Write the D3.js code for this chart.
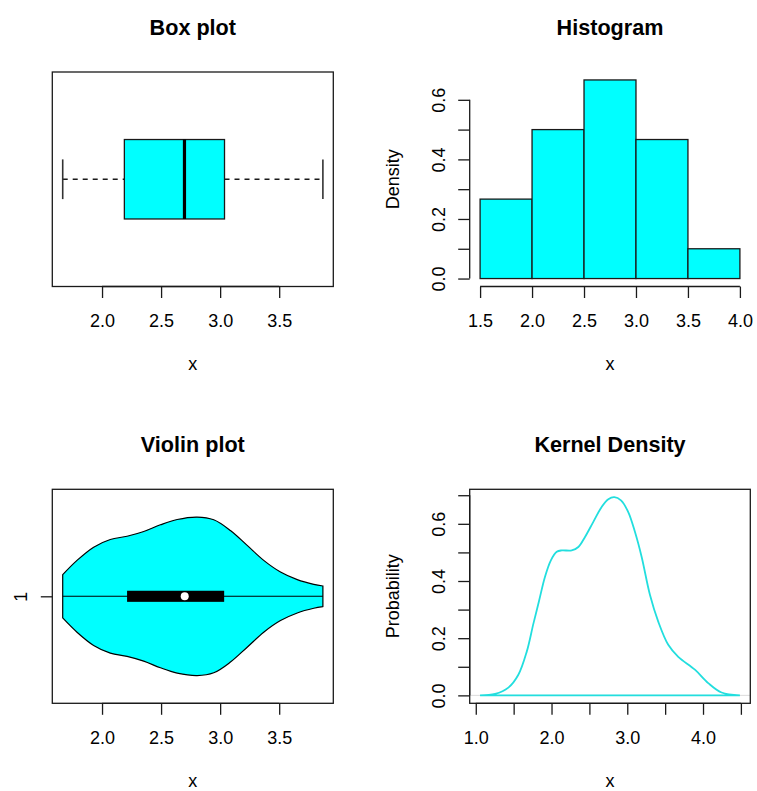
<!DOCTYPE html>
<html>
<head>
<meta charset="utf-8">
<script src="https://cdn.jsdelivr.net/npm/d3@7"></script>
<style>
  html, body { margin: 0; padding: 0; background: #fff; }
  svg { display: block; font-family: "Liberation Sans", Arial, Helvetica, sans-serif; }
</style>
</head>
<body>
<svg id="chart" width="757" height="791"></svg>
<script>
// ---- data -------------------------------------------------------------
// five-number summary used by the box plot: min, lower hinge, median, upper hinge, max
const boxStats = [1.667, 2.189, 2.698, 3.037, 3.870];

// histogram: bin edges and counts (n = 60)
const histBreaks = [1.5, 2.0, 2.5, 3.0, 3.5, 4.0];
const histCounts = [8, 15, 20, 14, 3];

// violin: quartiles/median and the estimated density profile (relative to its peak)
const vioQuartiles = [2.212, 2.700, 3.034];
const vioX = [1.667, 1.788, 1.929, 2.070, 2.212, 2.353, 2.494, 2.636, 2.805,
              2.946, 3.087, 3.229, 3.369, 3.511, 3.653, 3.793, 3.870];
const vioDensity = [0.273, 0.453, 0.620, 0.717, 0.758, 0.818, 0.902, 0.969, 1.000,
                    0.965, 0.830, 0.642, 0.453, 0.306, 0.210, 0.151, 0.130];

// kernel density estimate
const kdeX = [1.057, 1.255, 1.430, 1.562, 1.673, 1.760, 1.835, 1.914, 1.993, 2.069,
              2.135, 2.267, 2.354, 2.442, 2.552, 2.662, 2.750, 2.829, 2.917, 3.013,
              3.102, 3.190, 3.300, 3.409, 3.541, 3.673, 3.893, 4.069, 4.245, 4.487];
const kdeY = [0.000, 0.005, 0.027, 0.072, 0.153, 0.250, 0.330, 0.415, 0.473, 0.502,
              0.507, 0.507, 0.519, 0.554, 0.607, 0.659, 0.686, 0.693, 0.682, 0.641,
              0.571, 0.484, 0.351, 0.258, 0.177, 0.135, 0.090, 0.043, 0.010, 0.000];

// tick values
const boxXTicks = [2.0, 2.5, 3.0, 3.5];
const histXTicks = [1.5, 2.0, 2.5, 3.0, 3.5, 4.0];
const histYTicks = [0.0, 0.1, 0.2, 0.3, 0.4, 0.5, 0.6];
const kdeXTicks = [1.0, 1.5, 2.0, 2.5, 3.0, 3.5, 4.0, 4.5];
const kdeYTicks = [0.0, 0.1, 0.2, 0.3, 0.4, 0.5, 0.6, 0.7];

// ---- layout -------------------------------------------------------------
const svg = d3.select("#chart");
const FILL = "#00ffff";
const LINE = "#1a1a1a";
const KDE_COL = "#22dede";
const TICK = 11.5;

const panels = {
  box:  {left: 52.3,  right: 333.3, top: 72,    bottom: 286.5},
  hist: {left: 469.7, right: 750.3, top: 72,    bottom: 286.5},
  vio:  {left: 52.3,  right: 333.3, top: 489.3, bottom: 703.3},
  kde:  {left: 469.7, right: 750.3, top: 489.3, bottom: 703.3}
};

// R-style 4% range extension
function ext([a, b]) { const d = (b - a) * 0.04; return [a - d, b + d]; }

function frame(p) {
  svg.append("rect")
    .attr("x", p.left).attr("y", p.top)
    .attr("width", p.right - p.left).attr("height", p.bottom - p.top)
    .attr("fill", "none").attr("stroke", LINE).attr("stroke-width", 1.3);
}

function title(p, text) {
  svg.append("text")
    .attr("x", (p.left + p.right) / 2).attr("y", p.top - 37)
    .attr("text-anchor", "middle").attr("font-size", 21.6).attr("font-weight", "bold")
    .text(text);
}

function xLabel(p, text) {
  svg.append("text")
    .attr("x", (p.left + p.right) / 2).attr("y", p.bottom + 83.5)
    .attr("text-anchor", "middle").attr("font-size", 18).text(text);
}

function yLabel(p, text) {
  svg.append("text")
    .attr("transform", `translate(${p.left - 70.3},${(p.top + p.bottom) / 2}) rotate(-90)`)
    .attr("text-anchor", "middle").attr("font-size", 18).text(text);
}

function bottomAxis(p, x, ticks, labelled) {
  const g = svg.append("g").attr("transform", `translate(0,${p.bottom})`)
    .call(d3.axisBottom(x).tickValues(ticks).tickSize(TICK)
      .tickFormat((d, i) => labelled(d, i) ? d3.format(".1f")(d) : ""));
  g.select(".domain").remove();
  g.selectAll(".tick line").attr("stroke", LINE).attr("stroke-width", 1.3);
  g.selectAll(".tick text").attr("y", 40.5).attr("dy", null)
    .attr("font-size", 18).attr("font-family", null).attr("fill", "#000");
  g.append("line")
    .attr("x1", x(ticks[0])).attr("x2", x(ticks[ticks.length - 1]))
    .attr("stroke", LINE).attr("stroke-width", 1.3);
  return g;
}

function leftAxis(p, y, ticks, fmt) {
  const g = svg.append("g").attr("transform", `translate(${p.left},0)`)
    .call(d3.axisLeft(y).tickValues(ticks).tickSize(TICK).tickFormat(fmt));
  g.select(".domain").remove();
  g.selectAll(".tick line").attr("stroke", LINE).attr("stroke-width", 1.3);
  g.selectAll(".tick text").attr("x", null).attr("dy", null)
    .attr("transform", "translate(-25,0) rotate(-90)")
    .attr("text-anchor", "middle")
    .attr("font-size", 18).attr("font-family", null).attr("fill", "#000");
  g.append("line")
    .attr("y1", y(ticks[0])).attr("y2", y(ticks[ticks.length - 1]))
    .attr("stroke", LINE).attr("stroke-width", 1.3);
  return g;
}

// ---- Box plot -----------------------------------------------------------
{
  const p = panels.box;
  const [mn, q1, med, q3, mx] = boxStats;
  const x = d3.scaleLinear().domain(ext([mn, mx])).range([p.left, p.right]);
  const y = d3.scaleLinear().domain(ext([0.5, 1.5])).range([p.bottom, p.top]);
  const g = svg.append("g");
  const half = 0.2, staple = 0.1;

  // dashed whiskers
  [[mn, q1], [q3, mx]].forEach(([a, b]) => {
    g.append("line").attr("x1", x(a)).attr("x2", x(b)).attr("y1", y(1)).attr("y2", y(1))
      .attr("stroke", LINE).attr("stroke-width", 1.3).attr("stroke-dasharray", "5,5");
  });
  // staples
  [mn, mx].forEach(v => {
    g.append("line").attr("x1", x(v)).attr("x2", x(v))
      .attr("y1", y(1 - staple)).attr("y2", y(1 + staple))
      .attr("stroke", "#333").attr("stroke-width", 1.6);
  });
  // box
  g.append("rect")
    .attr("x", x(q1)).attr("y", y(1 + half))
    .attr("width", x(q3) - x(q1)).attr("height", y(1 - half) - y(1 + half))
    .attr("fill", FILL).attr("stroke", LINE).attr("stroke-width", 1.3);
  // median
  g.append("line").attr("x1", x(med)).attr("x2", x(med))
    .attr("y1", y(1 + half)).attr("y2", y(1 - half))
    .attr("stroke", "#000").attr("stroke-width", 3.2);

  frame(p);
  bottomAxis(p, x, boxXTicks, () => true);
  title(p, "Box plot");
  xLabel(p, "x");
}

// ---- Histogram ----------------------------------------------------------
{
  const p = panels.hist;
  const n = d3.sum(histCounts);
  const bins = histCounts.map((c, i) => ({
    x0: histBreaks[i], x1: histBreaks[i + 1],
    density: c / (n * (histBreaks[i + 1] - histBreaks[i]))
  }));
  const x = d3.scaleLinear().domain(ext([histBreaks[0], histBreaks[histBreaks.length - 1]]))
    .range([p.left, p.right]);
  const y = d3.scaleLinear().domain(ext([0, d3.max(bins, b => b.density)]))
    .range([p.bottom, p.top]);

  svg.append("g").selectAll("rect").data(bins).join("rect")
    .attr("x", d => x(d.x0)).attr("width", d => x(d.x1) - x(d.x0))
    .attr("y", d => y(d.density)).attr("height", d => y(0) - y(d.density))
    .attr("fill", FILL).attr("stroke", LINE).attr("stroke-width", 1.3);

  bottomAxis(p, x, histXTicks, () => true);
  leftAxis(p, y, histYTicks, (d, i) => i % 2 === 0 ? d3.format(".1f")(d) : "");
  title(p, "Histogram");
  xLabel(p, "x");
  yLabel(p, "Density");
}

// ---- Violin plot --------------------------------------------------------
{
  const p = panels.vio;
  const [q1, med, q3] = vioQuartiles;
  const mn = vioX[0], mx = vioX[vioX.length - 1];
  const x = d3.scaleLinear().domain(ext([mn, mx])).range([p.left, p.right]);
  const y = d3.scaleLinear().domain(ext([0.5, 1.5])).range([p.bottom, p.top]);
  const halfMax = 0.4;
  const pts = vioX.map((v, i) => ({x: v, w: vioDensity[i] * halfMax}));

  const area = d3.area()
    .x(d => x(d.x)).y0(d => y(1 - d.w)).y1(d => y(1 + d.w))
    .curve(d3.curveCatmullRom.alpha(0.5));
  svg.append("path").datum(pts).attr("d", area)
    .attr("fill", FILL).attr("stroke", "#000").attr("stroke-width", 1.2);

  svg.append("line").attr("x1", x(mn)).attr("x2", x(mx)).attr("y1", y(1)).attr("y2", y(1))
    .attr("stroke", "#000").attr("stroke-width", 1.1);
  svg.append("rect")
    .attr("x", x(q1)).attr("y", y(1.028))
    .attr("width", x(q3) - x(q1)).attr("height", y(0.972) - y(1.028))
    .attr("fill", "#000");
  svg.append("circle").attr("cx", x(med)).attr("cy", y(1)).attr("r", 4).attr("fill", "#fff");

  frame(p);
  bottomAxis(p, x, boxXTicks, () => true);
  leftAxis(p, y, [1], d => String(d));
  title(p, "Violin plot");
  xLabel(p, "x");
}

// ---- Kernel density -----------------------------------------------------
{
  const p = panels.kde;
  const pts = kdeX.map((v, i) => ({x: v, y: kdeY[i]}));
  const x = d3.scaleLinear().domain(ext(d3.extent(kdeX))).range([p.left, p.right]);
  const y = d3.scaleLinear().domain(ext([0, d3.max(kdeY)])).range([p.bottom, p.top]);

  // faint zero reference line
  svg.append("line").attr("x1", p.left).attr("x2", p.right).attr("y1", y(0)).attr("y2", y(0))
    .attr("stroke", "#dcdcdc").attr("stroke-width", 1);

  // density outline, closed back along the baseline
  const line = d3.line().x(d => x(d.x)).y(d => y(d.y)).curve(d3.curveCatmullRom.alpha(0.5));
  svg.append("path")
    .attr("d", line(pts) + `L${x(kdeX[0])},${y(0)}Z`)
    .attr("fill", "none").attr("stroke", KDE_COL).attr("stroke-width", 1.8);

  frame(p);
  bottomAxis(p, x, kdeXTicks, d => Math.abs(d - Math.round(d)) < 1e-9);
  leftAxis(p, y, kdeYTicks, (d, i) => i % 2 === 0 ? d3.format(".1f")(d) : "");
  title(p, "Kernel Density");
  xLabel(p, "x");
  yLabel(p, "Probability");
}
</script>
</body>
</html>
